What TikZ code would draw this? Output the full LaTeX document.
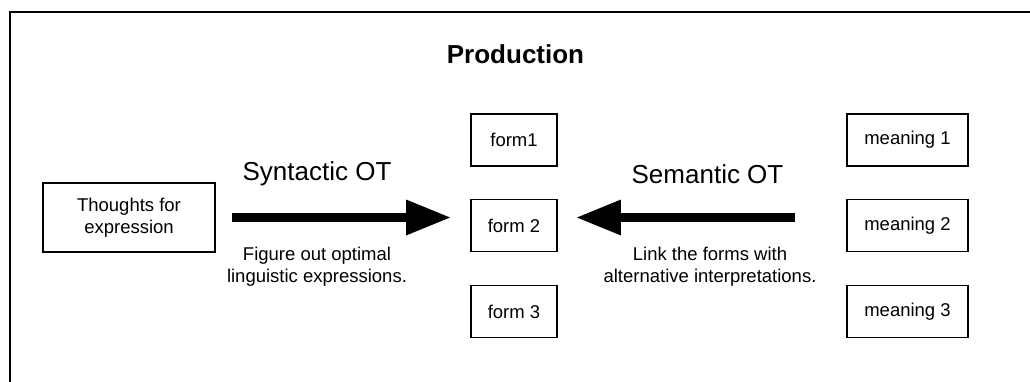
\documentclass[tikz,border=0pt]{standalone}
\usepackage{fontspec}
\setmainfont{Liberation Sans}
\usetikzlibrary{arrows.meta}
\tikzset{
  box/.style={draw, line width=1.6pt, inner sep=0pt, align=center,
    font=\fontsize{18.5}{22}\selectfont},
  formbox/.style={box, minimum width=86pt, minimum height=52pt},
  meanbox/.style={box, minimum width=121pt, minimum height=52pt},
  bigarrow/.style={line width=9pt, -{Triangle[length=45pt,width=33pt]}},
  arrowlabel/.style={font=\fontsize{26}{30}\selectfont, inner sep=0pt},
  caption/.style={font=\fontsize{18.5}{22}\selectfont, align=center, inner sep=0pt},
  frameline/.style={line width=2pt}
}
\begin{document}
\begin{tikzpicture}[x=1pt,y=-1pt]
\useasboundingbox (0,0) rectangle (1030,381);
\coordinate (fr1) at (1031,12);
\coordinate (fr2) at (10,12);
\coordinate (fr3) at (10,382);
\draw[frameline] (fr1) -- (fr2) -- (fr3);

\node[font=\fontsize{26}{30}\selectfont\bfseries, inner sep=0pt] (title) at (515.5,54) {Production};

\node[box, minimum width=172pt, minimum height=69pt] (thoughts) at (129,217.5) {Thoughts for\\expression};

\node[formbox] (f1) at (514,140) {form1};
\node[formbox] (f2) at (514,225.5) {form 2};
\node[formbox] (f3) at (514,311.5) {form 3};

\node[meanbox] (m1) at (907.5,140) {meaning 1};
\node[meanbox] (m2) at (907.5,225.5) {meaning 2};
\node[meanbox] (m3) at (907.5,311.5) {meaning 3};

\draw[bigarrow, shorten <=16pt, shorten >=19pt] (thoughts.east |- 0,217.5) -- (f2.west |- 0,217.5);
\draw[bigarrow, shorten <=51pt, shorten >=18pt] (m2.west |- 0,217.5) -- (f2.east |- 0,217.5);

\node[arrowlabel] (synlab) at (317,174) {Syntactic OT};
\node[arrowlabel] (semlab) at (707.5,174) {Semantic OT};

\node[caption] (syncap) at (317,267) {Figure out optimal\\linguistic expressions.};
\node[caption] (semcap) at (710,267) {Link the forms with\\alternative interpretations.};
\end{tikzpicture}
\end{document}
